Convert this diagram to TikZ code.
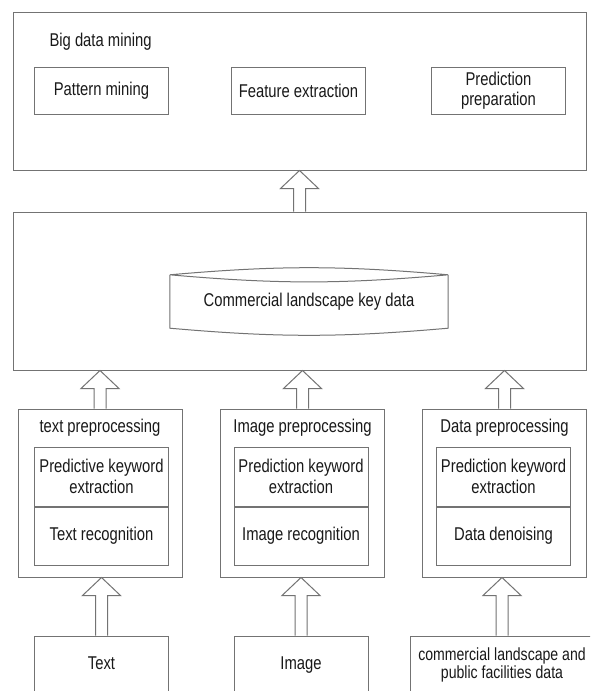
\documentclass[tikz,border=0pt]{standalone}
\usepackage{fontspec}
\setmainfont{Liberation Sans}[FakeStretch=0.8]
\usepackage{tikz}
\usetikzlibrary{positioning, calc}

\newcommand{\hollowarrow}[2]{%
  \draw[hollow] let \p1=(#1), \p2=(#2) in
    (\x1-6pt,\y1) -- (\x1-6pt,\y2-18pt) -- (\x1-19pt,\y2-18pt) -- (\x1,\y2)
    -- (\x1+19pt,\y2-18pt) -- (\x1+6pt,\y2-18pt) -- (\x1+6pt,\y1);}

\begin{document}
\begin{tikzpicture}[x=1pt, y=1pt, font=\fontsize{18.5}{20.5}\selectfont, text=black!90,
    box/.style={rectangle, draw=black!55, line width=1pt, inner sep=0pt, align=center},
    layer/.style={box, minimum width=573pt, minimum height=158pt},
    sub/.style={box, minimum width=134pt, minimum height=47pt},
    prep/.style={box, minimum width=164pt, minimum height=168pt},
    part/.style={box, minimum width=134pt},
    src/.style={box, minimum width=134pt, minimum height=80pt, text depth=26pt},
    hollow/.style={draw=black!55, line width=1pt, line join=miter}]

    \useasboundingbox (0,0) rectangle (590,-691);
    \fill[white] (0,0) rectangle (590,-691);
    \clip (0,0) rectangle (590,-691);

    \node [layer] (mining) at (299.5,-91) {};
    \node [anchor=west] (miningtitle) at (46,-42) {Big data mining};
    \node [sub] (pattern) at (101.5,-90.5) {Pattern mining};
    \node [sub] (feature) at (298.5,-90.5) {Feature extraction};
    \node [sub] (predprep) at (498.5,-90.5) {Prediction\\preparation};

    \node [layer] (keylayer) at (299.5,-291) {};
    \node [minimum width=278pt, minimum height=53pt] (keydata) at (309,-301.5) {Commercial landscape key data};
    \draw [hollow] (keydata.north west) to[bend left=5] (keydata.north east) to[bend left=5] (keydata.north west);
    \draw [hollow] (keydata.north west) -- (keydata.south west) to[bend right=5] (keydata.south east) -- (keydata.north east);

    \node [prep] (textprep) at (100,-493) {};
    \node (texttitle) at (100,-428) {text preprocessing};
    \node [part, minimum height=59pt] (textkw) at (101.5,-476.5) {Predictive keyword\\extraction};
    \node [part, minimum height=58pt, below=0pt of textkw] (textrec) {Text recognition};

    \node [prep] (imageprep) at (302.5,-493) {};
    \node (imagetitle) at (302.5,-428) {Image preprocessing};
    \node [part, minimum height=59pt] (imagekw) at (301,-476.5) {Prediction keyword\\extraction};
    \node [part, minimum height=58pt, below=0pt of imagekw] (imagerec) {Image recognition};

    \node [prep] (dataprep) at (504.5,-493) {};
    \node (datatitle) at (504.5,-428) {Data preprocessing};
    \node [part, minimum height=59pt] (datakw) at (503.5,-476.5) {Prediction keyword\\extraction};
    \node [part, minimum height=58pt, below=0pt of datakw] (datadenoise) {Data denoising};

    \node [src] (textsrc) at (101.5,-676) {Text};
    \node [src] (imagesrc) at (301,-676) {Image};
    \node [src, minimum width=184pt, font=\fontsize{17.6}{18.5}\selectfont] (datasrc) at (502,-676) {commercial landscape and\\public facilities data};

    \hollowarrow{keylayer.north}{mining.south}
    \hollowarrow{textprep.north}{keylayer.south}
    \hollowarrow{imageprep.north}{keylayer.south}
    \hollowarrow{dataprep.north}{keylayer.south}
    \hollowarrow{textsrc.north}{textprep.south}
    \hollowarrow{imagesrc.north}{imageprep.south}
    \hollowarrow{datasrc.north}{dataprep.south}
\end{tikzpicture}
\end{document}
